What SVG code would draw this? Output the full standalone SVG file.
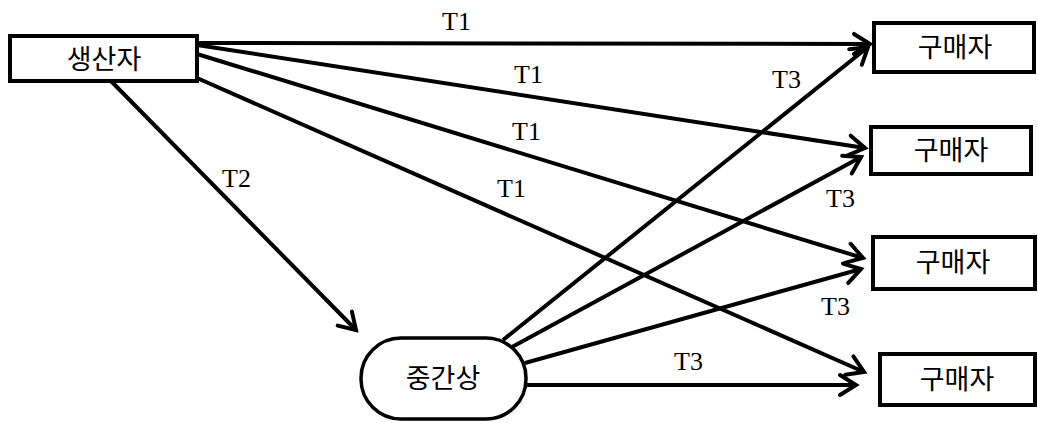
<svg xmlns="http://www.w3.org/2000/svg" width="1038" height="423" viewBox="0 0 1038 423">
<style>
.box{fill:#fff;stroke:#000;stroke-width:4}
.c{stroke:#000;stroke-width:4;fill:none;marker-end:url(#ah)}
</style>
<defs>
<marker id="ah" markerUnits="userSpaceOnUse" markerWidth="30" markerHeight="30" refX="0" refY="0" viewBox="-20 -15 30 30" orient="auto" overflow="visible">
<path d="M-16,-10 L0,0 L-16,10" fill="none" stroke="#000" stroke-width="4" stroke-linecap="round" stroke-linejoin="miter"/>
</marker>
</defs>
<rect width="1038" height="423" fill="#fff"/>
<g id="connectors">
<line class="c" x1="197" y1="43" x2="870" y2="44"/>
<line class="c" x1="197" y1="45" x2="865" y2="148"/>
<line class="c" x1="197" y1="54" x2="863" y2="258"/>
<line class="c" x1="197" y1="78" x2="864" y2="372"/>
<line class="c" x1="108" y1="78" x2="356" y2="330"/>
<line class="c" x1="503" y1="340" x2="868" y2="47"/>
<line class="c" x1="512" y1="347" x2="861" y2="157"/>
<line class="c" x1="525" y1="363" x2="861" y2="269"/>
<line class="c" x1="527" y1="385" x2="856" y2="385"/>
</g>
<g id="labels" font-family="Liberation Serif, DejaVu Serif, serif" font-size="26" fill="#000">
<text x="442" y="30">T1</text>
<text x="514" y="83">T1</text>
<text x="512" y="140">T1</text>
<text x="497" y="197">T1</text>
<text x="222" y="187">T2</text>
<text x="772" y="88">T3</text>
<text x="826" y="207">T3</text>
<text x="821" y="315">T3</text>
<text x="674" y="370">T3</text>
</g>
<g id="nodes" font-family="Noto Sans CJK KR, Noto Sans, sans-serif" font-size="27" fill="#000" text-anchor="middle">
<g id="producer">
<rect class="box" x="10" y="36" width="187" height="45"/>
<text x="104" y="69">생산자</text>
</g>
<g id="middleman">
<rect class="box" x="361" y="338" width="165" height="81" rx="40" ry="40" style="stroke-width:3.5"/>
<text x="443" y="388">중간상</text>
</g>
<g id="buyer1">
<rect class="box" x="874" y="23" width="160" height="49"/>
<text x="955" y="57">구매자</text>
</g>
<g id="buyer2">
<rect class="box" x="871" y="127" width="160" height="47"/>
<text x="951" y="160">구매자</text>
</g>
<g id="buyer3">
<rect class="box" x="873" y="237" width="162" height="52"/>
<text x="953" y="272">구매자</text>
</g>
<g id="buyer4">
<rect class="box" x="880" y="354" width="155" height="51"/>
<text x="957" y="389">구매자</text>
</g>
</g>
</svg>
